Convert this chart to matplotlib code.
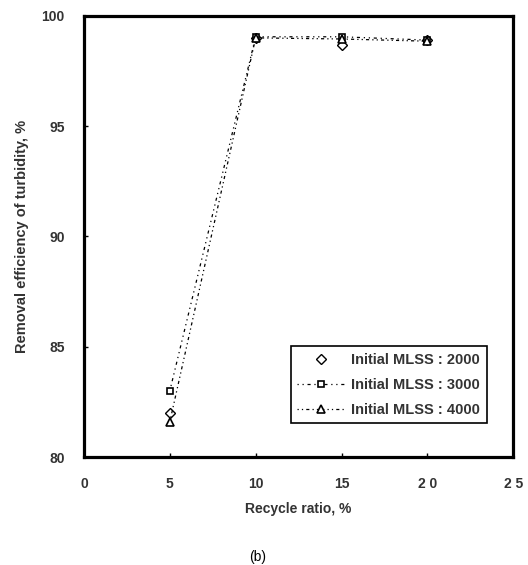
import matplotlib
matplotlib.use("Agg")
import matplotlib.pyplot as plt

# recycle ratio (%) and removal efficiency of turbidity (%)
recycle = [5, 10, 15, 20]
mlss_2000 = [82.0, 99.0, 98.7, 98.9]
mlss_3000 = [83.0, 99.05, 99.05, 98.9]
mlss_4000 = [81.6, 99.0, 98.95, 98.85]

x_ticks = [0, 5, 10, 15, 20, 25]
x_labels = ["0", "5", "10", "15", "2 0", "2 5"]
y_ticks = [80, 85, 90, 95, 100]

plt.rcParams['font.family'] = ['Liberation Sans', 'DejaVu Sans']

fig = plt.figure(figsize=(5.28, 5.65), dpi=100)
ax = fig.add_axes([0.159, 0.191, 0.813, 0.781])

ax.plot(recycle, mlss_2000, linestyle='none', marker='D', markersize=5,
        markerfacecolor='white', markeredgecolor='black', markeredgewidth=1,
        color='black', label="Initial MLSS : 2000")
ax.plot(recycle, mlss_3000, linestyle=(0, (1, 3, 1, 3, 2.5, 3)), linewidth=0.9,
        marker='s', markersize=5, markerfacecolor='white', markeredgecolor='black',
        markeredgewidth=1.2, color='black', label="Initial MLSS : 3000")
ax.plot(recycle, mlss_4000, linestyle=(0, (1, 2.5, 1, 2.5, 2.5, 2.5)), linewidth=0.9,
        marker='^', markersize=5.5, markerfacecolor='white', markeredgecolor='black',
        markeredgewidth=1.2, color='black', label="Initial MLSS : 4000")

ax.set_xlim(0, 25)
ax.set_ylim(80, 100)
ax.set_xticks(x_ticks)
ax.set_xticklabels(x_labels)
ax.set_yticks(y_ticks)

for s in ax.spines.values():
    s.set_linewidth(2.3)

ax.tick_params(axis='both', direction='in', length=3, width=1, labelsize=10)
ax.tick_params(axis='y', pad=14)
ax.tick_params(axis='x', pad=14)
for lab in ax.get_xticklabels() + ax.get_yticklabels():
    lab.set_fontweight('bold')
    lab.set_color('#333333')

ax.set_xlabel("Recycle ratio, %", fontsize=10, fontweight='bold', color='#333333', labelpad=8)
ax.set_ylabel("Removal efficiency of turbidity, %", fontsize=10.5, fontweight='bold',
              color='#333333', labelpad=9)

leg = ax.legend(loc='lower right', bbox_to_anchor=(0.955, 0.06), fancybox=False,
                edgecolor='black', framealpha=1, handlelength=3.2,
                borderpad=0.45, labelspacing=0.75, handletextpad=0.5,
                prop={'weight': 'bold', 'size': 10.5})
leg.get_frame().set_linewidth(1.2)
for t in leg.get_texts():
    t.set_color('#333333')

fig.text(0.488, 0.002, "(b)", ha='center', va='bottom', fontsize=10)

fig.savefig("out.png", dpi=100)
